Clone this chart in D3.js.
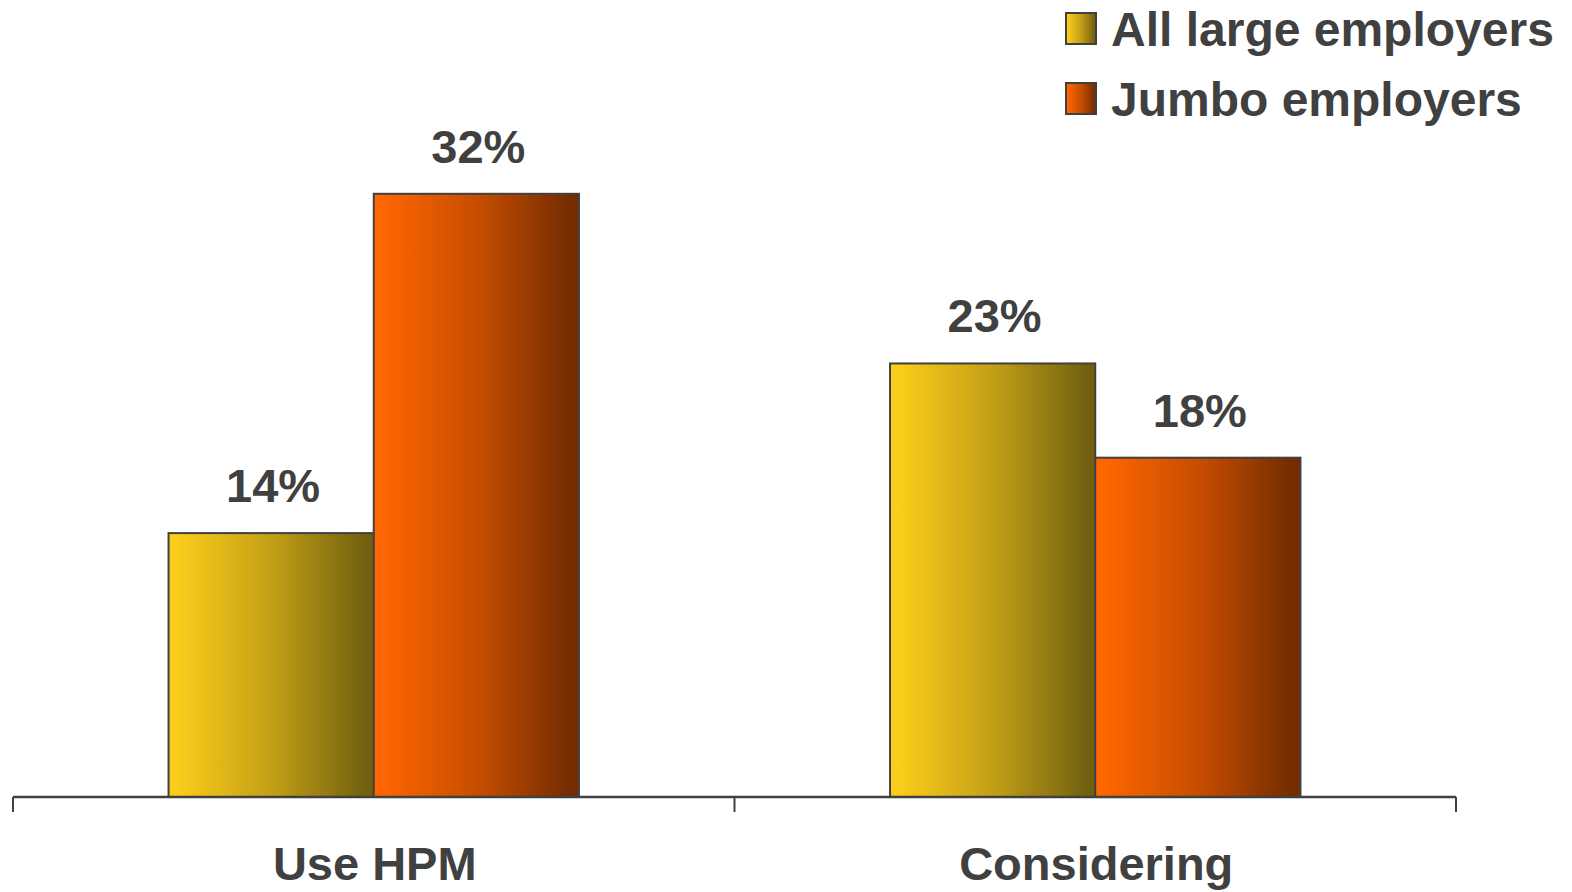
<!DOCTYPE html>
<html>
<head>
<meta charset="utf-8">
<script src="https://cdn.jsdelivr.net/npm/d3@7/dist/d3.min.js"></script>
<style>
  html, body { margin: 0; padding: 0; background: #ffffff; }
  svg { display: block; }
  text { font-family: "Liberation Sans", Arial, sans-serif; font-weight: bold; fill: #404040; }
</style>
</head>
<body>
<svg id="chart" width="1572" height="892"></svg>
<script>
// Share of employers using / considering HPM
const categories = ["Use HPM", "Considering"];
const seriesNames = ["All large employers", "Jumbo employers"];
const allLarge = [14, 23];
const jumbo = [32, 18];
const valueLabels = [["14%", "23%"], ["32%", "18%"]];

const rows = categories.map((c, i) => ({
  category: c,
  values: [
    { series: 0, value: allLarge[i], label: valueLabels[0][i] },
    { series: 1, value: jumbo[i], label: valueLabels[1][i] }
  ]
}));

const W = 1572, H = 892;
const axisLeft = 13, axisRight = 1456, baseY = 797;
const svg = d3.select("#chart");

// Horizontal gradient fills for the two series
const defs = svg.append("defs");
const gradients = [
  { id: "gradYellow", from: "#fbcd1b", mid: "#c09d16", to: "#72600f" },
  { id: "gradOrange", from: "#ff6600", mid: "#c44c00", to: "#742c00" }
];
gradients.forEach(g => {
  const lg = defs.append("linearGradient")
    .attr("id", g.id).attr("x1", "0%").attr("x2", "100%").attr("y1", "0%").attr("y2", "0%");
  lg.append("stop").attr("offset", "4%").attr("stop-color", g.from);
  lg.append("stop").attr("offset", "52%").attr("stop-color", g.mid);
  lg.append("stop").attr("offset", "96%").attr("stop-color", g.to);
});
const fills = ["url(#gradYellow)", "url(#gradOrange)"];

// Scales
const x0 = d3.scaleBand().domain(categories).range([axisLeft, axisRight]).paddingInner(0).paddingOuter(0);
const x1 = d3.scaleBand().domain([0, 1]).range([0, x0.bandwidth()]).paddingOuter(0.758).paddingInner(0);
const y = d3.scaleLinear().domain([0, 35]).range([baseY, baseY - 35 * 18.85]);

// Bars
const groups = svg.append("g").selectAll("g.cat")
  .data(rows).join("g")
  .attr("class", "cat")
  .attr("transform", d => `translate(${x0(d.category)},0)`);

groups.selectAll("rect")
  .data(d => d.values).join("rect")
  .attr("x", d => x1(d.series))
  .attr("y", d => y(d.value))
  .attr("width", x1.bandwidth())
  .attr("height", d => baseY - y(d.value))
  .attr("fill", d => fills[d.series])
  .attr("stroke", "#404040")
  .attr("stroke-width", 2);

// Value labels above bars
groups.selectAll("text.val")
  .data(d => d.values).join("text")
  .attr("class", "val")
  .attr("x", d => x1(d.series) + x1.bandwidth() / 2 + 2)
  .attr("y", d => y(d.value) - 31)
  .attr("text-anchor", "middle")
  .style("font-size", "47px")
  .text(d => d.label);

// Category axis with boundary ticks
const axis = svg.append("g").attr("transform", `translate(0,${baseY})`);
axis.append("line")
  .attr("x1", axisLeft).attr("x2", axisRight)
  .attr("y1", 0).attr("y2", 0)
  .attr("stroke", "#404040").attr("stroke-width", 2.5);
const tickXs = [axisLeft, ...categories.map(c => x0(c) + x0.bandwidth())];
axis.selectAll("line.tick")
  .data(tickXs).join("line")
  .attr("class", "tick")
  .attr("x1", d => d).attr("x2", d => d)
  .attr("y1", 0).attr("y2", 15)
  .attr("stroke", "#404040").attr("stroke-width", 2);
axis.selectAll("text.cat")
  .data(categories).join("text")
  .attr("class", "cat")
  .attr("x", d => x0(d) + x0.bandwidth() / 2 + 1)
  .attr("y", 83)
  .attr("text-anchor", "middle")
  .style("font-size", "47px")
  .text(d => d);

// Legend
const legend = svg.append("g").attr("transform", "translate(1066,13)");
const items = legend.selectAll("g")
  .data(seriesNames).join("g")
  .attr("transform", (d, i) => `translate(0,${i * 70})`);
items.append("rect")
  .attr("x", 0).attr("y", 0)
  .attr("width", 30).attr("height", 31)
  .attr("fill", (d, i) => fills[i])
  .attr("stroke", "#404040").attr("stroke-width", 2);
items.append("text")
  .attr("x", 45).attr("y", 33)
  .style("font-size", "48px")
  .text(d => d);
</script>
</body>
</html>
